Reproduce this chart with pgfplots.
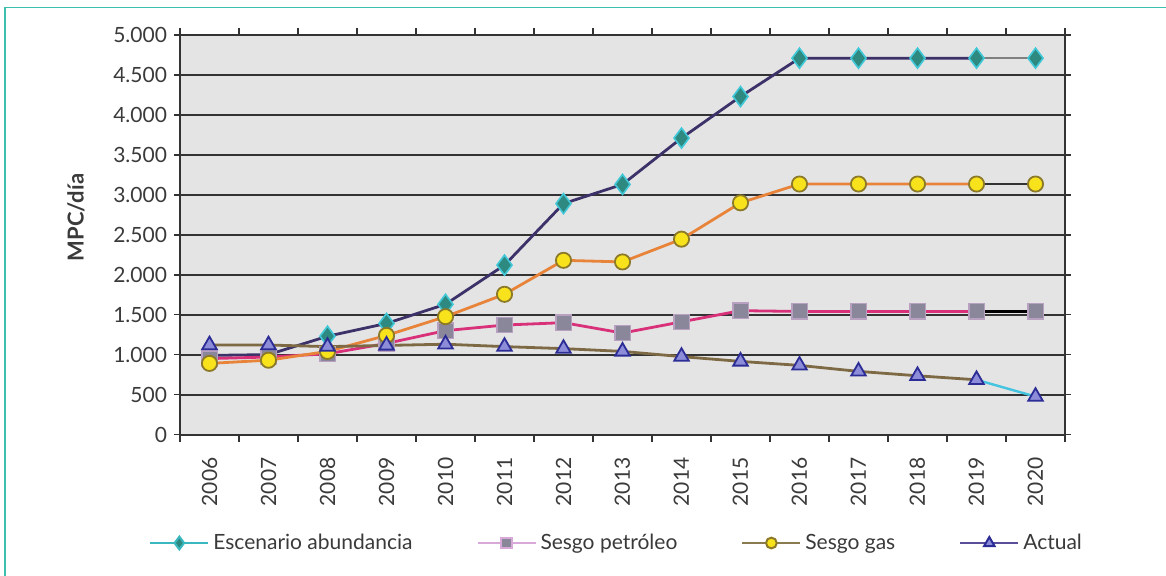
\documentclass[border=0pt]{standalone}
\usepackage{pgfplots}
\pgfplotsset{compat=1.18}
\usepackage{pgfplotstable}
\usepackage{fontspec}
\setmainfont{Lato}
\definecolor{framec}{HTML}{3DBFAD}
\definecolor{bgc}{HTML}{E4E4E4}
\definecolor{gridc}{HTML}{333333}
\definecolor{txt}{HTML}{3A3A3A}
\definecolor{purpl}{HTML}{3C3168}
\definecolor{orng}{HTML}{E8843A}
\definecolor{pnk}{HTML}{D8317A}
\definecolor{brwn}{HTML}{7D6A45}
\definecolor{cyn}{HTML}{45C4E0}
\definecolor{diafill}{HTML}{2E8A80}
\definecolor{diadraw}{HTML}{40C8D8}
\definecolor{cirfill}{HTML}{F7E21B}
\definecolor{cirdraw}{HTML}{8C7A28}
\definecolor{sqfill}{HTML}{8A879B}
\definecolor{sqdraw}{HTML}{B8A0C0}
\definecolor{trifill}{HTML}{8C8CD8}
\definecolor{tridraw}{HTML}{2C2C96}
\definecolor{legteal}{HTML}{3AB8C0}
\definecolor{legpink}{HTML}{D8A8D8}
\definecolor{legbrown}{HTML}{8A7A50}
\definecolor{legpurp}{HTML}{5A4E9A}
\pgfplotstableread{
year esc pet gas act
2006 990 950 890 1120
2007 1000 970 930 1120
2008 1230 1010 1040 1100
2009 1390 1140 1240 1115
2010 1630 1300 1475 1130
2011 2120 1370 1755 1100
2012 2890 1400 2180 1075
2013 3130 1270 2160 1040
2014 3710 1410 2445 975
2015 4230 1550 2900 915
2016 4710 1540 3135 865
2017 4710 1540 3135 790
2018 4710 1540 3135 735
2019 4710 1540 3135 685
2020 4710 1540 3135 475
}\data
\begin{document}
\begin{tikzpicture}
\draw[framec, line width=0.8pt] (2.5pt,-5pt) -- (2.5pt,283.85pt) -- (600pt,283.85pt);
\begin{axis}[
  at={(90pt,70.25pt)}, anchor=south west,
  width=442.5pt, height=199.75pt, scale only axis,
  xmin=2005.5, xmax=2020.5, ymin=0, ymax=5000,
  axis background/.style={fill=bgc},
  axis line style={draw=gridc, line width=1pt},
  ymajorgrids, major grid style={draw=gridc, line width=1pt},
  tick align=outside, major tick length=3pt, minor tick length=3.5pt,
  tick style={draw=gridc, line width=0.8pt},
  major x tick style={draw=none},
  xtick={2006,2007,...,2020},
  minor xtick={2005.5,2006.5,...,2020.5},
  ytick={0,500,...,5000},
  scaled y ticks=false,
  /pgf/number format/assume math mode=true,
  y tick label style={/pgf/number format/1000 sep={.}, font=\fontsize{10.5}{12}\selectfont, text=txt},
  x tick label style={/pgf/number format/1000 sep={}, rotate=90, anchor=east, font=\fontsize{10.5}{12}\selectfont, text=txt},
  xticklabel shift=5pt,
  ylabel={MPC/día},
  every axis y label/.style={at={(axis description cs:-0.1175,0.543)}, rotate=90, anchor=center, font=\bfseries\fontsize{11}{13}\selectfont, text=txt},
  legend columns=4,
  legend style={at={(axis description cs:0.4945,-0.2716)}, anchor=center, draw=none, fill=none,
    font=\fontsize{10.5}{12}\selectfont, text=txt,
    /tikz/every even column/.append style={column sep=30pt}},
  legend image code/.code={\draw[mark repeat=2,mark phase=2,#1] plot coordinates {(0pt,0pt) (14.5pt,0pt) (29pt,0pt)};},
]
\addlegendimage{legteal, line width=1pt, mark=diamond*, mark size=3.2pt, mark options={fill=diafill, draw=legteal}}
\addlegendentry{Escenario abundancia}
\addlegendimage{legpink, line width=1pt, mark=square*, mark size=2.6pt, mark options={fill=sqfill, draw=legpink}}
\addlegendentry{Sesgo petróleo}
\addlegendimage{legbrown, line width=1pt, mark=*, mark size=2.7pt, mark options={fill=cirfill, draw=cirdraw}}
\addlegendentry{Sesgo gas}
\addlegendimage{legpurp, line width=1pt, mark=triangle*, mark size=3pt, mark options={fill=trifill, draw=tridraw}}
\addlegendentry{Actual}
% lines
\addplot[forget plot, purpl, line width=1.4pt, restrict x to domain=2006:2019] table[x=year,y=esc] {\data};
\addplot[forget plot, gray, line width=0.7pt, restrict x to domain=2019:2020] table[x=year,y=esc] {\data};
\addplot[forget plot, pnk, line width=1.4pt, restrict x to domain=2006:2019] table[x=year,y=pet] {\data};
\addplot[forget plot, black, line width=1.4pt, restrict x to domain=2019:2020] table[x=year,y=pet] {\data};
\addplot[forget plot, orng, line width=1.4pt, restrict x to domain=2006:2019] table[x=year,y=gas] {\data};
\addplot[forget plot, gridc, line width=0.8pt, restrict x to domain=2019:2020] table[x=year,y=gas] {\data};
\addplot[forget plot, brwn, line width=1.4pt, restrict x to domain=2006:2019] table[x=year,y=act] {\data};
\addplot[forget plot, cyn, line width=1.2pt, restrict x to domain=2019:2020] table[x=year,y=act] {\data};
% markers
\addplot[forget plot, only marks, mark=diamond*, mark size=5pt, mark options={fill=diafill, draw=diadraw, line width=0.8pt}] table[x=year,y=esc] {\data};
\addplot[forget plot, only marks, mark=square*, mark size=3.8pt, mark options={fill=sqfill, draw=sqdraw, line width=0.6pt}] table[x=year,y=pet] {\data};
\addplot[forget plot, only marks, mark=*, mark size=3.8pt, mark options={fill=cirfill, draw=cirdraw, line width=0.9pt}] table[x=year,y=gas] {\data};
\addplot[forget plot, only marks, mark=triangle*, mark size=4.2pt, mark options={fill=trifill, draw=tridraw, line width=0.9pt}] table[x=year,y=act] {\data};
\end{axis}
\pgfresetboundingbox
\useasboundingbox (0pt,0pt) rectangle (583pt,287.5pt);
\end{tikzpicture}
\end{document}
